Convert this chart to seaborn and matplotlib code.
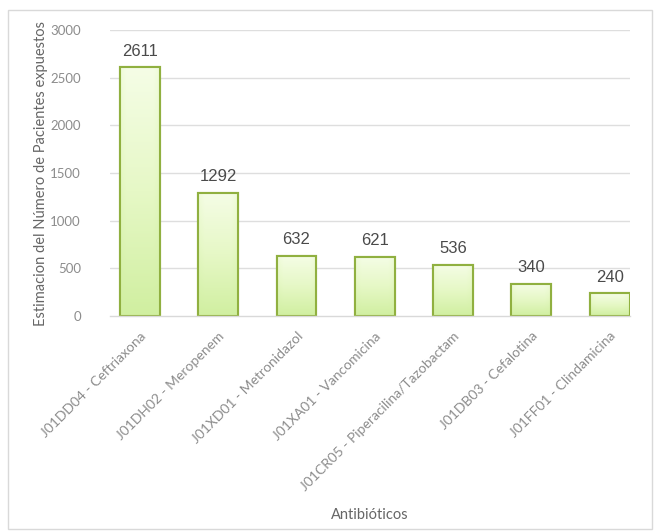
import numpy as np
import pandas as pd
import matplotlib
matplotlib.use("Agg")
import matplotlib.pyplot as plt
import seaborn as sns
from matplotlib.patches import Rectangle
from matplotlib.colors import LinearSegmentedColormap

antibioticos = [
    "J01DD04 - Ceftriaxona",
    "J01DH02 - Meropenem",
    "J01XD01 - Metronidazol",
    "J01XA01 - Vancomicina",
    "J01CR05 - Piperacilina/Tazobactam",
    "J01DB03 - Cefalotina",
    "J01FF01 - Clindamicina",
]
pacientes = [2611, 1292, 632, 621, 536, 340, 240]
yticks = [0, 500, 1000, 1500, 2000, 2500, 3000]

df = pd.DataFrame({"Antibiótico": antibioticos, "Pacientes": pacientes})

sns.set_theme(style="white")
plt.rcParams["font.family"] = ["Lato", "DejaVu Sans"]

W, H = 656, 531
fig = plt.figure(figsize=(W / 100, H / 100), dpi=100)
ax = fig.add_axes([110 / W, 1 - 316 / H, 520 / W, 286 / H])

ax.set_axisbelow(True)
for v in yticks[1:]:
    ax.axhline(v, color="#dedede", lw=1.0, zorder=0)

edge = "#90b040"
sns.barplot(data=df, x="Antibiótico", y="Pacientes", ax=ax, width=0.51,
            color="#d8f2ae", edgecolor=edge, linewidth=1.5, zorder=2)

# vertical gradient fill inside each bar, slightly deeper toward the sides
grad = LinearSegmentedColormap.from_list("g", ["#d0efa0", "#e6f8c6", "#f5fde6"])
gimg = np.linspace(0, 1, 256).reshape(-1, 1)
edge_fade = np.minimum(np.linspace(0, 1, 64) * 6, 1) * np.minimum(np.linspace(1, 0, 64) * 6, 1)
for p in ax.patches:
    x0, w, h = p.get_x(), p.get_width(), p.get_height()
    im = ax.imshow(gimg * (0.8 + 0.2 * edge_fade[None, :]), cmap=grad, vmin=0, vmax=1,
                   extent=[x0, x0 + w, 0, h], origin="lower", aspect="auto", zorder=2.1)
    im.set_clip_path(p)
    ax.add_patch(Rectangle((x0, 0), w, h, fill=False, edgecolor=edge, lw=1.5, zorder=2.2))

for i, v in enumerate(pacientes):
    ax.text(i, v + 90, f"{v}", ha="center", va="bottom", fontsize=12,
            color="#4a4a4a", family=["Liberation Sans", "DejaVu Sans"], zorder=3)

ax.set_xlim(-0.383, 6.26)
ax.set_ylim(0, 3000)
ax.set_yticks(yticks)
ax.set_yticklabels([str(t) for t in yticks], fontsize=9.5, color="#8c8c8c")
ax.tick_params(axis="y", length=0, pad=21)
ax.tick_params(axis="x", length=0, pad=10)
ax.set_xticks(range(len(antibioticos)))
ax.set_xticklabels(antibioticos, rotation=45, ha="right", rotation_mode="anchor",
                   fontsize=10, color="#8c8c8c")
for s in ["top", "right", "left"]:
    ax.spines[s].set_visible(False)
ax.spines["bottom"].set_color("#d9d9d9")
ax.spines["bottom"].set_linewidth(1.0)

ax.set_xlabel("Antibióticos", fontsize=10.5, color="#666666")
ax.xaxis.set_label_coords(0.5, (316 - 508) / 286)
ax.set_ylabel("Estimacion del Número de Pacientes expuestos", fontsize=10.5, color="#666666")
ax.yaxis.set_label_coords((48 - 110) / 520, 0.5)

fig.patches.append(Rectangle((8 / W, 1 - 529 / H), 644 / W, 519 / H, transform=fig.transFigure,
                             fill=False, edgecolor="#d9d9d9", lw=1.0))

fig.savefig("out.png", dpi=100)
